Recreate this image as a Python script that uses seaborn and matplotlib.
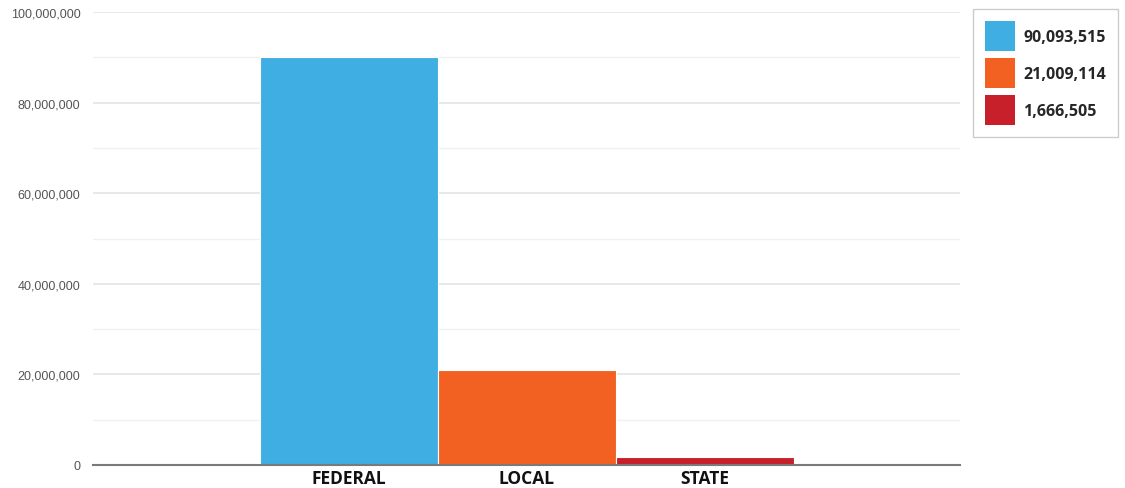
import matplotlib
matplotlib.use("Agg")
import matplotlib.pyplot as plt
import seaborn as sns
import pandas as pd
from matplotlib.patches import Patch
from matplotlib.ticker import FuncFormatter, MultipleLocator

categories = ["FEDERAL", "LOCAL", "STATE"]
values = [90093515, 21009114, 1666505]
colors = ["#3FAEE2", "#F26122", "#C8202A"]
legend_labels = ["90,093,515", "21,009,114", "1,666,505"]
y_ticks = [0, 20000000, 40000000, 60000000, 80000000, 100000000]

df = pd.DataFrame({"category": categories, "value": values})

sns.set_theme(style="white")
plt.rcParams["font.family"] = ["DejaVu Sans"]

fig = plt.figure(figsize=(11.25, 4.89), dpi=100)
ax = fig.add_axes([93/1125, 23/489, (960-93)/1125, (466-13)/489])

sns.barplot(data=df, x="category", y="value", hue="category",
            palette=dict(zip(categories, colors)), width=1.0, dodge=False,
            legend=False, ax=ax, saturation=1)

half = (960-93)/178/2
ax.set_xlim(1-half, 1+half)
ax.set_ylim(0, 100000000)
ax.set_yticks(y_ticks)
ax.yaxis.set_minor_locator(MultipleLocator(10000000))
ax.yaxis.set_major_formatter(FuncFormatter(lambda v, p: f"{int(v):,}"))
ax.grid(axis="y", which="major", color="#e4e4e4", linewidth=1.2)
ax.grid(axis="y", which="minor", color="#f1f1f1", linewidth=1.0)
ax.set_axisbelow(True)
for s in ["left", "right", "top"]:
    ax.spines[s].set_visible(False)
ax.spines["bottom"].set_color("#7a7a7a")
ax.spines["bottom"].set_linewidth(1.5)
ax.set_xlabel("")
ax.set_ylabel("")
ax.tick_params(axis="y", which="both", length=0, labelsize=9, labelcolor="#555555", pad=9)
for lbl in ax.get_yticklabels():
    lbl.set_fontfamily(["Liberation Sans", "DejaVu Sans"])
ax.tick_params(axis="x", length=0, pad=3)
for lbl in ax.get_xticklabels():
    lbl.set_fontfamily(["Open Sans", "DejaVu Sans"])
    lbl.set_fontweight("bold")
    lbl.set_fontsize(12.5)
    lbl.set_color("#111111")
for b in ax.patches:
    b.set_edgecolor("white")
    b.set_linewidth(0.8)

handles = [Patch(facecolor=c, edgecolor="none") for c in colors]
leg = fig.legend(handles, legend_labels, loc="upper left",
                 bbox_to_anchor=(973/1125, 1-10/489), borderaxespad=0,
                 prop={"family": ["Open Sans", "DejaVu Sans"], "weight": "bold", "size": 11.5},
                 handlelength=1.85, handleheight=2.5, labelspacing=0.45,
                 handletextpad=0.55, borderpad=0.75, frameon=True, fancybox=False,
                 edgecolor="#cccccc", framealpha=1)
leg.get_frame().set_linewidth(1.0)

fig.savefig("out.png", dpi=100)
